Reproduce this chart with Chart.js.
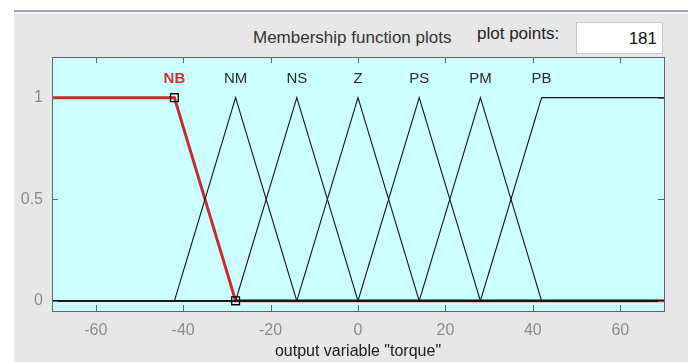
<!DOCTYPE html>
<html>
<head>
<meta charset="utf-8">
<script src="https://cdn.jsdelivr.net/npm/chart.js@4"></script>
<style>
  body { margin: 0; background: #fff; font-family: "Liberation Sans", Arial, sans-serif; }
  #wrap { position: relative; width: 688px; height: 362px; overflow: hidden; }
  #panel { position: absolute; left: 14px; top: 10px; right: 0; bottom: 0;
           background: #e7e7e7; border-top: 2px solid #a2a2b0; }
  #panel:before { content: ""; position: absolute; left: 0; right: 0; top: 0; height: 2px; background: #f2f2f4; }
  canvas { position: absolute; left: 0; top: 0; }
  .txt { position: absolute; font-size: 17px; line-height: 20px; color: #333; white-space: nowrap; }
  #ppbox { position: absolute; left: 576px; top: 22px; width: 85px; height: 30px;
           background: #fff; border: 1px solid #c6c6c6; text-align: right;
           font-size: 17px; line-height: 31px; color: #111; box-sizing: content-box; }
  #ppbox span { padding-right: 5px; }
</style>
</head>
<body>
<div id="wrap">
  <div id="panel"></div>
  <div class="txt" style="left:253px; top:28px;">Membership function plots</div>
  <div class="txt" style="left:477px; top:24px; color:#222;">plot points:</div>
  <div id="ppbox"><span>181</span></div>
  <canvas id="c" width="688" height="362"></canvas>
</div>
<script>
// output variable "torque", range [-70 70]
const xRange = [-70, 70];
const xTicks = [-60, -40, -20, 0, 20, 40, 60];
const yTicks = [0, 0.5, 1];

const names = ['NB', 'NM', 'NS', 'Z', 'PS', 'PM', 'PB'];
// trapmf for the shoulders, trimf for the rest
const NB = [-70, -70, -42, -28];
const NM = [-42, -28, -14];
const NS = [-28, -14, 0];
const Z  = [-14, 0, 14];
const PS = [0, 14, 28];
const PM = [14, 28, 42];
const PB = [28, 42, 70, 70];
const params = [NB, NM, NS, Z, PS, PM, PB];
const selected = 0; // NB is highlighted

function mfPoints(p) {
  const lo = xRange[0], hi = xRange[1];
  if (p.length === 3) {
    return [{x: lo, y: 0}, {x: p[0], y: 0}, {x: p[1], y: 1}, {x: p[2], y: 0}, {x: hi, y: 0}];
  }
  const pts = [];
  pts.push({x: lo, y: p[0] === lo ? 1 : 0});
  if (p[0] > lo) pts.push({x: p[0], y: 0});
  pts.push({x: p[1], y: 1});
  pts.push({x: p[2], y: 1});
  if (p[3] < hi) pts.push({x: p[3], y: 0});
  pts.push({x: hi, y: p[3] === hi ? 1 : 0});
  // drop duplicates at the range ends
  return pts.filter((q, i) => i === 0 || q.x !== pts[i - 1].x || q.y !== pts[i - 1].y);
}

// label goes over the top corner nearest the centre
function labelX(p) {
  if (p.length === 3) return p[1];
  return Math.abs(p[1]) < Math.abs(p[2]) ? p[1] : p[2];
}

const datasets = params.map((p, i) => {
  const data = mfPoints(p);
  const sel = i === selected;
  return {
    label: names[i],
    data: data,
    showLine: true,
    borderColor: sel ? '#cc2a2a' : '#141414',
    borderWidth: sel ? 3 : 1.1,
    order: sel ? 1 : 0,
    pointStyle: 'rect',
    pointRadius: data.map(q => (sel && q.x > xRange[0] && q.x < xRange[1]) ? 5.5 : 0),
    pointBorderColor: '#000',
    pointBorderWidth: 1.3,
    pointBackgroundColor: 'rgba(0,0,0,0)',
    tension: 0
  };
});

const boxPlugin = {
  id: 'box',
  beforeDatasetsDraw(chart) {
    const a = chart.chartArea, ctx = chart.ctx;
    ctx.save();
    ctx.fillStyle = '#ccffff';
    ctx.fillRect(a.left, a.top, a.right - a.left, a.bottom - a.top);
    ctx.restore();
  },
  afterDatasetsDraw(chart) {
    const a = chart.chartArea, ctx = chart.ctx;
    const xs = chart.scales.x, ys = chart.scales.y;
    ctx.save();
    ctx.strokeStyle = '#566868';
    ctx.lineWidth = 1;
    ctx.beginPath();
    xTicks.forEach(v => {
      const px = Math.round(xs.getPixelForValue(v)) + 0.5;
      ctx.moveTo(px, a.top); ctx.lineTo(px, a.top + 6);
      ctx.moveTo(px, a.bottom); ctx.lineTo(px, a.bottom - 6);
    });
    yTicks.forEach(v => {
      const py = Math.round(ys.getPixelForValue(v)) + 0.5;
      ctx.moveTo(a.left, py); ctx.lineTo(a.left + 6, py);
      ctx.moveTo(a.right, py); ctx.lineTo(a.right - 6, py);
    });
    ctx.stroke();
    ctx.strokeRect(Math.round(a.left) + 0.5, Math.round(a.top) + 0.5,
                   Math.round(a.right - a.left), Math.round(a.bottom - a.top));
    // MF names
    ctx.textAlign = 'center';
    ctx.textBaseline = 'middle';
    params.forEach((p, i) => {
      const sel = i === selected;
      ctx.font = (sel ? 'bold ' : '') + '15px "Liberation Sans", Arial, sans-serif';
      ctx.fillStyle = sel ? '#d43030' : '#2a2a2a';
      ctx.fillText(names[i], xs.getPixelForValue(labelX(p)), ys.getPixelForValue(1.09));
    });
    ctx.restore();
  }
};

new Chart(document.getElementById('c'), {
  type: 'scatter',
  data: { datasets: datasets },
  options: {
    responsive: false,
    animation: false,
    events: [],
    layout: { padding: { left: 0, top: 57, right: 24, bottom: 0 } },
    plugins: { legend: { display: false }, tooltip: { enabled: false }, title: { display: false } },
    scales: {
      x: {
        type: 'linear', min: xRange[0], max: xRange[1],
        grid: { display: false, drawTicks: false },
        border: { display: false },
        afterBuildTicks: s => { s.ticks = xTicks.map(v => ({ value: v })); },
        afterFit: s => { s.height = 51; },
        ticks: { color: '#8a8a8a', padding: 10, maxRotation: 0,
                 callback: v => String(v),
                 font: { family: '"Liberation Sans", Arial, sans-serif', size: 16 } },
        title: { display: true, text: 'output variable "torque"', color: '#1a1a1a',
                 padding: { top: 0, bottom: 1 },
                 font: { family: '"Liberation Sans", Arial, sans-serif', size: 16 } }
      },
      y: {
        type: 'linear', min: -0.05, max: 1.2,
        grid: { display: false, drawTicks: false },
        border: { display: false },
        afterBuildTicks: s => { s.ticks = yTicks.map(v => ({ value: v })); },
        afterFit: s => { s.width = 52; },
        ticks: { color: '#8a8a8a', padding: 9,
                 callback: v => String(v),
                 font: { family: '"Liberation Sans", Arial, sans-serif', size: 16 } }
      }
    }
  },
  plugins: [boxPlugin]
});
</script>
</body>
</html>
